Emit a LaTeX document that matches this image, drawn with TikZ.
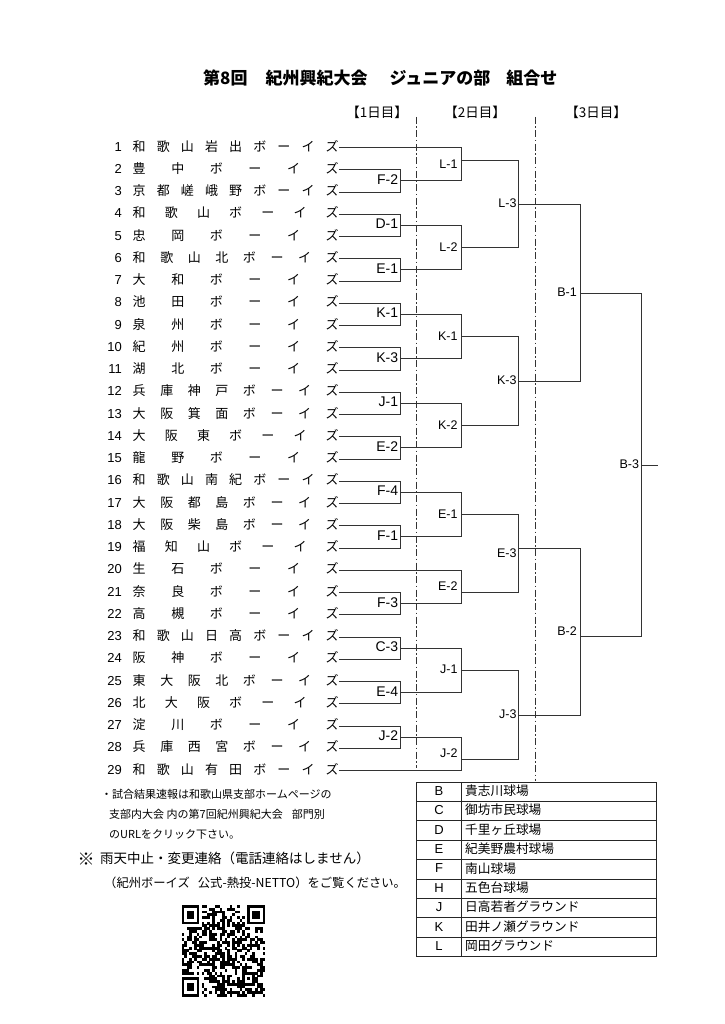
\documentclass[tikz,border=0pt]{standalone}
\usepackage{fontspec}
\setmainfont{Noto Sans CJK JP}
\newfontfamily\latf{Liberation Sans}
\begin{document}
\begin{tikzpicture}[x=1pt,y=-1pt,
  br/.style={draw=black!80, line width=0.9pt},
  dd/.style={draw=black!80, line width=0.9pt, dash pattern=on 7pt off 2.5pt on 1.5pt off 2.5pt},
  tb/.style={draw=black!85, line width=0.9pt},
  team/.style={anchor=west, inner sep=0pt, font=\fontsize{13}{13}\selectfont, text height=0.8em, text depth=0.07em},
  num/.style={anchor=east, inner sep=0pt, font=\latf\fontsize{13}{13}\selectfont, text height=0.716em, text depth=0pt},
  lab/.style={anchor=east, inner sep=0pt, font=\latf\fontsize{14}{14}\selectfont, text height=0.716em, text depth=0pt},
  labs/.style={anchor=east, inner sep=0pt, font=\latf\fontsize{12.5}{12.5}\selectfont, text height=0.716em, text depth=0pt},
  hdr/.style={inner sep=0pt, font=\fontsize{13.5}{13.5}\selectfont},
  leg/.style={inner sep=0pt, font=\latf\fontsize{13}{13}\selectfont, text height=0.716em, text depth=0pt},
  legn/.style={anchor=west, inner sep=0pt, font=\fontsize{12.7}{12.7}\selectfont, text height=0.8em, text depth=0.07em},
  note/.style={anchor=west, inner sep=0pt, font=\fontsize{11}{11}\selectfont, text height=0.8em, text depth=0.07em},
  noteb/.style={anchor=west, inner sep=0pt, font=\fontsize{13.5}{13.5}\selectfont, text height=0.8em, text depth=0.07em}
]
\useasboundingbox (0,0) rectangle (724,1024);
\fill[white] (0,0) rectangle (724,1024);

% title and headers
\node[anchor=west, inner sep=0pt, font=\bfseries\fontsize{17}{17}\selectfont] (title) at (203,78)
  {第8回\hspace{18pt}紀州興紀大会\hspace{22pt}ジュニアの部\hspace{16pt}組合せ};
\node[hdr] (h1) at (377,112) {【1日目】};
\node[hdr] (h2) at (475,112) {【2日目】};
\node[hdr] (h3) at (596,112) {【3日目】};

% day separators
\coordinate (d1a) at (416.5,117); \coordinate (d1b) at (416.5,768);
\coordinate (d2a) at (535,117);   \coordinate (d2b) at (535,781);
\draw[dd] (d1a) -- (d1b);
\draw[dd] (d2a) -- (d2b);

% teams
\foreach \n/\nm in {
  1/{和 歌 山 岩 出 ボ ー イ ズ},
  2/{豊 中 ボ ー イ ズ},
  3/{京 都 嵯 峨 野 ボ ー イ ズ},
  4/{和 歌 山 ボ ー イ ズ},
  5/{忠 岡 ボ ー イ ズ},
  6/{和 歌 山 北 ボ ー イ ズ},
  7/{大 和 ボ ー イ ズ},
  8/{池 田 ボ ー イ ズ},
  9/{泉 州 ボ ー イ ズ},
  10/{紀 州 ボ ー イ ズ},
  11/{湖 北 ボ ー イ ズ},
  12/{兵 庫 神 戸 ボ ー イ ズ},
  13/{大 阪 箕 面 ボ ー イ ズ},
  14/{大 阪 東 ボ ー イ ズ},
  15/{龍 野 ボ ー イ ズ},
  16/{和 歌 山 南 紀 ボ ー イ ズ},
  17/{大 阪 都 島 ボ ー イ ズ},
  18/{大 阪 柴 島 ボ ー イ ズ},
  19/{福 知 山 ボ ー イ ズ},
  20/{生 石 ボ ー イ ズ},
  21/{奈 良 ボ ー イ ズ},
  22/{高 槻 ボ ー イ ズ},
  23/{和 歌 山 日 高 ボ ー イ ズ},
  24/{阪 神 ボ ー イ ズ},
  25/{東 大 阪 北 ボ ー イ ズ},
  26/{北 大 阪 ボ ー イ ズ},
  27/{淀 川 ボ ー イ ズ},
  28/{兵 庫 西 宮 ボ ー イ ズ},
  29/{和 歌 山 有 田 ボ ー イ ズ}}{
  \pgfmathsetmacro{\yy}{147.5+(\n-1)*22.25}
  \node[num] (n\n) at (122,\yy) {\n};
  \node[team] (t\n) at (132.5,\yy) {\makebox[206pt][s]{\nm}};
}

% round 1 (X=400)
\foreach \nm/\lb/\yy in {F2/F-2/180.9, D1/D-1/225.4, E1/E-1/269.9, K1/K-1/314.4, K3/K-3/358.9,
   J1/J-1/403.4, E2/E-2/447.9, F4/F-4/492.4, F1/F-1/536.9, F3/F-3/603.6, C3/C-3/648.1,
   E4/E-4/692.6, J2/J-2/737.1}{
  \coordinate (a\nm) at (400,\yy);
  \node[lab] (la\nm) at (398.3,\yy) {\lb};
}
% round 2 (X=461)
\foreach \nm/\lb/\yy/\ly in {L1/L-1/160/165, L2/L-2/247.6/247.6, K1/K-1/336.6/336.6, K2/K-2/425.6/425.6,
   E1/E-1/514.6/514.6, E2/E-2/592.7/587, J1/J-1/670.4/670.4, J2/J-2/759/753.8}{
  \coordinate (b\nm) at (461,\yy);
  \node[labs] (lb\nm) at (457.7,\ly) {\lb};
}
% round 3 (X=518.7)
\foreach \nm/\lb/\yy/\ly in {L3/L-3/204/204, K3/K-3/381.1/381.1, E3/E-3/548.3/554, J3/J-3/715/715}{
  \coordinate (c\nm) at (518.7,\yy);
  \node[labs] (lc\nm) at (516.7,\ly) {\lb};
}
% round 4 (X=580)
\foreach \nm/\lb/\yy/\ly in {B1/B-1/293/293, B2/B-2/636.7/631.7}{
  \coordinate (d\nm) at (580,\yy);
  \node[labs] (ld\nm) at (577,\ly) {\lb};
}
% round 5
\coordinate (eB3) at (641.5,465);
\node[labs] (leB3) at (639.3,465) {B-3};
\coordinate (win) at (658,465);

% connectors round 1
\foreach \p/\q/\m in {2/3/F2, 4/5/D1, 6/7/E1, 8/9/K1, 10/11/K3, 12/13/J1, 14/15/E2,
   16/17/F4, 18/19/F1, 21/22/F3, 23/24/C3, 25/26/E4, 27/28/J2}{
  \draw[br] (t\p.east) -| (a\m);
  \draw[br] (t\q.east) -| (a\m);
}
% round 2
\draw[br] (t1.east) -| (bL1);  \draw[br] (aF2) -| (bL1);
\draw[br] (aD1) -| (bL2);      \draw[br] (aE1) -| (bL2);
\draw[br] (aK1) -| (bK1);      \draw[br] (aK3) -| (bK1);
\draw[br] (aJ1) -| (bK2);      \draw[br] (aE2) -| (bK2);
\draw[br] (aF4) -| (bE1);      \draw[br] (aF1) -| (bE1);
\draw[br] (t20.east) -| (bE2); \draw[br] (aF3) -| (bE2);
\draw[br] (aC3) -| (bJ1);      \draw[br] (aE4) -| (bJ1);
\draw[br] (aJ2) -| (bJ2);      \draw[br] (t29.east) -| (bJ2);
% round 3
\draw[br] (bL1) -| (cL3); \draw[br] (bL2) -| (cL3);
\draw[br] (bK1) -| (cK3); \draw[br] (bK2) -| (cK3);
\draw[br] (bE1) -| (cE3); \draw[br] (bE2) -| (cE3);
\draw[br] (bJ1) -| (cJ3); \draw[br] (bJ2) -| (cJ3);
% round 4
\draw[br] (cL3) -| (dB1); \draw[br] (cK3) -| (dB1);
\draw[br] (cE3) -| (dB2); \draw[br] (cJ3) -| (dB2);
% final
\draw[br] (dB1) -| (eB3); \draw[br] (dB2) -| (eB3);
\draw[br] (eB3) -- (win);

% legend table
\foreach \k in {0,...,9}{
  \draw[tb] (416.7,{782+19.41*\k}) -- (656.7,{782+19.41*\k});
}
\draw[tb] (416.7,782) -- (416.7,956.7);
\draw[tb] (461.7,782) -- (461.7,956.7);
\draw[tb] (656.7,782) -- (656.7,956.7);
\foreach \k/\c/\v in {1/B/貴志川球場, 2/C/御坊市民球場, 3/D/千里ヶ丘球場, 4/E/紀美野農村球場,
   5/F/南山球場, 6/H/五色台球場, 7/J/日高若者グラウンド, 8/K/田井ノ瀬グラウンド, 9/L/岡田グラウンド}{
  \pgfmathsetmacro{\yy}{782+19.41*(\k-0.5)}
  \node[leg] (gk\k) at (439,\yy) {\c};
  \node[legn] (gv\k) at (465,\yy) {\v};
}

% notes
\node[note] (note1) at (101,795) {・試合結果速報は和歌山県支部ホームページの};
\node[note] (note2) at (109,815) {支部内大会 内の第7回紀州興紀大会\hspace{9pt}部門別};
\node[note] (note3) at (109,835) {のURLをクリック下さい。};
\node[inner sep=0pt, font=\bfseries\fontsize{17}{17}\selectfont] (kome) at (86,859) {※};
\node[noteb] (note4) at (100,860) {雨天中止・変更連絡（電話連絡はしません）};
\node[anchor=west, inner sep=0pt, font=\fontsize{12.3}{12.3}\selectfont, text height=0.8em, text depth=0.07em] (note5) at (104,884) {（紀州ボーイズ\hspace{8pt}公式-熱投-NETTO）をご覧ください。};

% QR code
\pgfmathsetseed{7}
\begin{scope}[shift={(181.7,905)}, x=2.525pt, y=-2.78pt]
  \foreach \i in {0,...,32}{
    \foreach \j in {0,...,32}{
      \pgfmathtruncatemacro{\f}{((\i<8 && \j<8) || (\i>24 && \j<8) || (\i<8 && \j>24) || (\i>23 && \i<29 && \j>23 && \j<29)) ? 0 : ((\j==6) ? mod(\i+1,2) : ((\i==6) ? mod(\j+1,2) : (rnd<0.48 ? 1 : 0)))}
      \ifnum\f=1 \fill (\i,\j) rectangle ++(1.02,1.02); \fi
    }
  }
  \foreach \cx/\cy in {0/0, 26/0, 0/26}{
    \fill (\cx,\cy) rectangle ++(7,7);
    \fill[white] (\cx+1,\cy+1) rectangle ++(5,5);
    \fill (\cx+2,\cy+2) rectangle ++(3,3);
  }
  \fill (24,24) rectangle ++(5,5);
  \fill[white] (25,25) rectangle ++(3,3);
  \fill (26,26) rectangle ++(1,1);
\end{scope}
\end{tikzpicture}
\end{document}
